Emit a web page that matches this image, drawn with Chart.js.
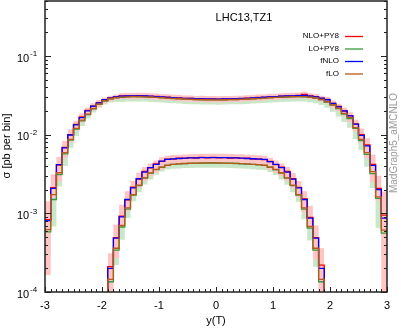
<!DOCTYPE html>
<html lang="en">
<head>
  <meta charset="UTF-8" />
  <title>LHC13,TZ1 - y(T)</title>
  <script src="https://cdn.jsdelivr.net/npm/chart.js@4.4.1/dist/chart.umd.min.js"></script>
  <style>
    html, body { margin: 0; padding: 0; background: #fff; }
    #wrap { width: 399px; height: 329px; }
  </style>
</head>
<body>
  <div id="wrap"><canvas id="xsec" width="399" height="329"></canvas></div>

  <script>
    // bin edges in y(T), bins are 0.1 wide
    const edges = [
      -3.0, -2.9, -2.8, -2.7, -2.6, -2.5, -2.4, -2.3, -2.2, -2.1,
      -2.0, -1.9, -1.8, -1.7, -1.6, -1.5, -1.4, -1.3, -1.2, -1.1,
      -1.0, -0.9, -0.8, -0.7, -0.6, -0.5, -0.4, -0.3, -0.2, -0.1,
       0.0,  0.1,  0.2,  0.3,  0.4,  0.5,  0.6,  0.7,  0.8,  0.9,
       1.0,  1.1,  1.2,  1.3,  1.4,  1.5,  1.6,  1.7,  1.8,  1.9,
       2.0,  2.1,  2.2,  2.3,  2.4,  2.5,  2.6,  2.7,  2.8,  2.9,
       3.0
    ];
    // the lower distribution only fills -1.9 .. 1.9
    const lowEdges = edges.slice(11, 50);

    const xTicks = [-3, -2, -1, 0, 1, 2, 3];
    const yTickExp = [-4, -3, -2, -1];

    // ---- upper distribution (60 bins) ----
    const upNLO = [
      8.3e-4, 2.12e-3, 4.1e-3, 6.9e-3, 1.0e-2, 1.35e-2, 1.68e-2, 2.04e-2, 2.30e-2, 2.56e-2,
      2.76e-2, 2.94e-2, 3.02e-2, 3.10e-2, 3.12e-2, 3.10e-2, 3.13e-2, 3.11e-2, 3.07e-2, 3.06e-2,
      3.00e-2, 2.99e-2, 2.94e-2, 2.93e-2, 2.89e-2, 2.89e-2, 2.85e-2, 2.86e-2, 2.83e-2, 2.84e-2,
      2.82e-2, 2.85e-2, 2.84e-2, 2.87e-2, 2.87e-2, 2.91e-2, 2.92e-2, 2.97e-2, 2.98e-2, 3.03e-2,
      3.04e-2, 3.09e-2, 3.11e-2, 3.12e-2, 3.15e-2, 3.25e-2, 3.10e-2, 3.04e-2, 2.90e-2, 2.80e-2,
      2.50e-2, 2.28e-2, 2.00e-2, 1.75e-2, 1.37e-2, 1.00e-2, 7.4e-3, 4.2e-3, 2.08e-3, 9.5e-4
    ];
    const upLO = [
      5.8e-4, 1.50e-3, 3.10e-3, 5.7e-3, 8.5e-3, 1.18e-2, 1.50e-2, 1.80e-2, 2.13e-2, 2.43e-2,
      2.68e-2, 2.85e-2, 2.94e-2, 2.99e-2, 3.02e-2, 3.04e-2, 3.03e-2, 3.02e-2, 3.00e-2, 2.97e-2,
      2.94e-2, 2.91e-2, 2.88e-2, 2.86e-2, 2.83e-2, 2.81e-2, 2.80e-2, 2.78e-2, 2.77e-2, 2.77e-2,
      2.76e-2, 2.77e-2, 2.79e-2, 2.80e-2, 2.81e-2, 2.83e-2, 2.86e-2, 2.88e-2, 2.91e-2, 2.94e-2,
      2.97e-2, 2.99e-2, 3.01e-2, 3.03e-2, 3.04e-2, 3.03e-2, 2.99e-2, 2.91e-2, 2.79e-2, 2.60e-2,
      2.37e-2, 2.14e-2, 1.83e-2, 1.60e-2, 1.20e-2, 8.4e-3, 5.6e-3, 3.20e-3, 1.55e-3, 5.6e-4
    ];
    const upFNLO = [
      8.1e-4, 2.07e-3, 4.15e-3, 6.8e-3, 9.9e-3, 1.33e-2, 1.65e-2, 2.01e-2, 2.31e-2, 2.54e-2,
      2.78e-2, 2.92e-2, 3.03e-2, 3.08e-2, 3.10e-2, 3.12e-2, 3.12e-2, 3.10e-2, 3.08e-2, 3.05e-2,
      3.02e-2, 2.98e-2, 2.95e-2, 2.92e-2, 2.90e-2, 2.88e-2, 2.86e-2, 2.85e-2, 2.84e-2, 2.83e-2,
      2.83e-2, 2.84e-2, 2.85e-2, 2.86e-2, 2.88e-2, 2.90e-2, 2.93e-2, 2.96e-2, 2.99e-2, 3.02e-2,
      3.05e-2, 3.08e-2, 3.10e-2, 3.12e-2, 3.14e-2, 3.16e-2, 3.09e-2, 3.03e-2, 2.92e-2, 2.78e-2,
      2.49e-2, 2.26e-2, 2.01e-2, 1.73e-2, 1.36e-2, 9.8e-3, 7.2e-3, 4.07e-3, 2.01e-3, 8.7e-4
    ];
    const upFLO = [
      6.2e-4, 1.73e-3, 3.28e-3, 5.9e-3, 8.7e-3, 1.20e-2, 1.53e-2, 1.82e-2, 2.15e-2, 2.45e-2,
      2.70e-2, 2.86e-2, 2.95e-2, 3.00e-2, 3.03e-2, 3.04e-2, 3.04e-2, 3.03e-2, 3.01e-2, 2.98e-2,
      2.95e-2, 2.92e-2, 2.89e-2, 2.86e-2, 2.84e-2, 2.82e-2, 2.80e-2, 2.79e-2, 2.78e-2, 2.77e-2,
      2.77e-2, 2.78e-2, 2.79e-2, 2.80e-2, 2.82e-2, 2.84e-2, 2.86e-2, 2.89e-2, 2.92e-2, 2.95e-2,
      2.98e-2, 3.00e-2, 3.02e-2, 3.04e-2, 3.05e-2, 3.04e-2, 3.00e-2, 2.93e-2, 2.80e-2, 2.62e-2,
      2.40e-2, 2.17e-2, 1.86e-2, 1.65e-2, 1.23e-2, 8.7e-3, 5.9e-3, 3.38e-3, 1.62e-3, 6.1e-4
    ];
    // uncertainty bands (NLO+PY8 pink, LO+PY8 green)
    const upNLOHi = [
      1.42e-3, 3.12e-3, 5.2e-3, 8.3e-3, 1.17e-2, 1.50e-2, 1.86e-2, 2.22e-2, 2.50e-2, 2.75e-2,
      2.97e-2, 3.12e-2, 3.24e-2, 3.36e-2, 3.38e-2, 3.38e-2, 3.40e-2, 3.38e-2, 3.35e-2, 3.33e-2,
      3.28e-2, 3.26e-2, 3.21e-2, 3.19e-2, 3.15e-2, 3.15e-2, 3.11e-2, 3.12e-2, 3.09e-2, 3.10e-2,
      3.08e-2, 3.11e-2, 3.10e-2, 3.13e-2, 3.13e-2, 3.17e-2, 3.19e-2, 3.24e-2, 3.25e-2, 3.30e-2,
      3.32e-2, 3.37e-2, 3.39e-2, 3.40e-2, 3.43e-2, 3.50e-2, 3.36e-2, 3.28e-2, 3.12e-2, 3.00e-2,
      2.72e-2, 2.48e-2, 2.22e-2, 1.93e-2, 1.55e-2, 1.20e-2, 9.0e-3, 5.6e-3, 3.0e-3, 1.9e-3
    ];
    const upNLOLo = [
      1.65e-4, 1.57e-3, 2.57e-3, 5.1e-3, 7.9e-3, 1.12e-2, 1.43e-2, 1.75e-2, 2.05e-2, 2.26e-2,
      2.49e-2, 2.64e-2, 2.75e-2, 2.82e-2, 2.84e-2, 2.82e-2, 2.85e-2, 2.83e-2, 2.79e-2, 2.78e-2,
      2.73e-2, 2.72e-2, 2.67e-2, 2.66e-2, 2.63e-2, 2.63e-2, 2.59e-2, 2.60e-2, 2.57e-2, 2.58e-2,
      2.56e-2, 2.59e-2, 2.58e-2, 2.61e-2, 2.61e-2, 2.65e-2, 2.65e-2, 2.70e-2, 2.71e-2, 2.75e-2,
      2.76e-2, 2.81e-2, 2.83e-2, 2.84e-2, 2.86e-2, 2.95e-2, 2.82e-2, 2.76e-2, 2.64e-2, 2.50e-2,
      2.22e-2, 2.00e-2, 1.73e-2, 1.45e-2, 1.10e-2, 7.8e-3, 5.0e-3, 2.5e-3, 1.45e-3, 1.0e-4
    ];
    const upLOHi = [
      7.0e-4, 1.75e-3, 3.4e-3, 6.2e-3, 9.2e-3, 1.27e-2, 1.61e-2, 1.93e-2, 2.28e-2, 2.59e-2,
      2.85e-2, 3.03e-2, 3.12e-2, 3.17e-2, 3.20e-2, 3.22e-2, 3.21e-2, 3.20e-2, 3.18e-2, 3.15e-2,
      3.12e-2, 3.09e-2, 3.06e-2, 3.04e-2, 3.01e-2, 2.99e-2, 2.98e-2, 2.96e-2, 2.95e-2, 2.95e-2,
      2.94e-2, 2.95e-2, 2.97e-2, 2.98e-2, 2.99e-2, 3.01e-2, 3.04e-2, 3.06e-2, 3.09e-2, 3.12e-2,
      3.15e-2, 3.17e-2, 3.19e-2, 3.21e-2, 3.22e-2, 3.21e-2, 3.17e-2, 3.09e-2, 2.97e-2, 2.78e-2,
      2.54e-2, 2.29e-2, 1.96e-2, 1.72e-2, 1.30e-2, 9.1e-3, 6.1e-3, 3.5e-3, 1.80e-3, 6.8e-4
    ];
    const upLOLo = [
      3.0e-4, 6.8e-4, 2.2e-3, 4.0e-3, 6.8e-3, 9.6e-3, 1.29e-2, 1.60e-2, 1.91e-2, 2.20e-2,
      2.42e-2, 2.56e-2, 2.60e-2, 2.60e-2, 2.63e-2, 2.64e-2, 2.64e-2, 2.63e-2, 2.61e-2, 2.58e-2,
      2.56e-2, 2.53e-2, 2.51e-2, 2.49e-2, 2.46e-2, 2.44e-2, 2.44e-2, 2.42e-2, 2.41e-2, 2.41e-2,
      2.40e-2, 2.41e-2, 2.43e-2, 2.44e-2, 2.44e-2, 2.46e-2, 2.49e-2, 2.51e-2, 2.53e-2, 2.56e-2,
      2.58e-2, 2.60e-2, 2.62e-2, 2.64e-2, 2.64e-2, 2.63e-2, 2.58e-2, 2.50e-2, 2.38e-2, 2.20e-2,
      1.95e-2, 1.70e-2, 1.45e-2, 1.22e-2, 8.8e-3, 6.4e-3, 3.9e-3, 2.1e-3, 6.5e-4, 2.8e-4
    ];

    // ---- lower distribution (38 bins, -1.9 .. 1.9) ----
    const loNLO = [
      2.1e-4, 4.9e-4, 9.2e-4, 1.48e-3, 2.15e-3, 2.72e-3, 3.42e-3, 3.78e-3, 4.25e-3, 4.58e-3,
      4.88e-3, 4.90e-3, 5.02e-3, 5.00e-3, 5.10e-3, 5.05e-3, 5.13e-3, 5.08e-3, 5.14e-3, 5.07e-3,
      5.12e-3, 5.05e-3, 5.09e-3, 5.00e-3, 5.01e-3, 4.90e-3, 4.92e-3, 4.82e-3, 4.56e-3, 4.15e-3,
      3.86e-3, 3.40e-3, 2.75e-3, 2.14e-3, 1.52e-3, 8.9e-4, 4.9e-4, 2.2e-4
    ];
    const loLO = [
      1.35e-4, 3.4e-4, 6.7e-4, 1.13e-3, 1.70e-3, 2.25e-3, 2.80e-3, 3.25e-3, 3.60e-3, 3.85e-3,
      4.08e-3, 4.18e-3, 4.25e-3, 4.29e-3, 4.32e-3, 4.34e-3, 4.35e-3, 4.36e-3, 4.36e-3, 4.35e-3,
      4.34e-3, 4.32e-3, 4.30e-3, 4.27e-3, 4.23e-3, 4.19e-3, 4.14e-3, 4.08e-3, 3.85e-3, 3.58e-3,
      3.25e-3, 2.80e-3, 2.25e-3, 1.70e-3, 1.13e-3, 6.5e-4, 3.4e-4, 1.35e-4
    ];
    const loFNLO = [
      2.0e-4, 4.85e-4, 9.0e-4, 1.50e-3, 2.11e-3, 2.75e-3, 3.34e-3, 3.80e-3, 4.19e-3, 4.62e-3,
      4.85e-3, 4.92e-3, 4.98e-3, 5.02e-3, 5.06e-3, 5.08e-3, 5.10e-3, 5.10e-3, 5.11e-3, 5.10e-3,
      5.10e-3, 5.08e-3, 5.06e-3, 5.03e-3, 4.98e-3, 4.94e-3, 4.88e-3, 4.85e-3, 4.53e-3, 4.19e-3,
      3.80e-3, 3.34e-3, 2.72e-3, 2.11e-3, 1.50e-3, 8.7e-4, 4.85e-4, 2.0e-4
    ];
    const loFLO = [
      1.45e-4, 3.6e-4, 7.0e-4, 1.17e-3, 1.73e-3, 2.28e-3, 2.83e-3, 3.27e-3, 3.62e-3, 3.87e-3,
      4.10e-3, 4.20e-3, 4.26e-3, 4.30e-3, 4.33e-3, 4.35e-3, 4.36e-3, 4.37e-3, 4.37e-3, 4.36e-3,
      4.35e-3, 4.33e-3, 4.31e-3, 4.28e-3, 4.24e-3, 4.20e-3, 4.15e-3, 4.10e-3, 3.87e-3, 3.61e-3,
      3.28e-3, 2.83e-3, 2.28e-3, 1.73e-3, 1.17e-3, 6.8e-4, 3.6e-4, 1.45e-4
    ];
    const loNLOHi = [
      3.1e-4, 7.2e-4, 1.29e-3, 1.91e-3, 2.57e-3, 3.28e-3, 3.87e-3, 4.30e-3, 4.70e-3, 5.15e-3,
      5.40e-3, 5.50e-3, 5.56e-3, 5.60e-3, 5.65e-3, 5.67e-3, 5.70e-3, 5.70e-3, 5.71e-3, 5.70e-3,
      5.70e-3, 5.68e-3, 5.65e-3, 5.62e-3, 5.57e-3, 5.52e-3, 5.46e-3, 5.40e-3, 5.10e-3, 4.70e-3,
      4.30e-3, 3.87e-3, 3.25e-3, 2.57e-3, 1.91e-3, 1.25e-3, 7.0e-4, 3.6e-4
    ];
    const loNLOLo = [
      8.0e-5, 2.7e-4, 6.8e-4, 1.06e-3, 1.65e-3, 2.11e-3, 2.57e-3, 2.97e-3, 3.28e-3, 3.60e-3,
      3.90e-3, 4.15e-3, 4.30e-3, 4.40e-3, 4.48e-3, 4.50e-3, 4.53e-3, 4.53e-3, 4.54e-3, 4.53e-3,
      4.53e-3, 4.50e-3, 4.47e-3, 4.42e-3, 4.35e-3, 4.25e-3, 4.12e-3, 3.90e-3, 3.58e-3, 3.25e-3,
      2.97e-3, 2.57e-3, 2.11e-3, 1.62e-3, 1.04e-3, 6.5e-4, 2.6e-4, 8.0e-5
    ];
    const loLOHi = [
      1.7e-4, 4.0e-4, 7.6e-4, 1.26e-3, 1.86e-3, 2.44e-3, 3.02e-3, 3.49e-3, 3.86e-3, 4.12e-3,
      4.36e-3, 4.46e-3, 4.52e-3, 4.56e-3, 4.59e-3, 4.61e-3, 4.62e-3, 4.63e-3, 4.63e-3, 4.62e-3,
      4.61e-3, 4.59e-3, 4.57e-3, 4.54e-3, 4.50e-3, 4.46e-3, 4.41e-3, 4.35e-3, 4.12e-3, 3.84e-3,
      3.49e-3, 3.02e-3, 2.44e-3, 1.86e-3, 1.26e-3, 7.4e-4, 4.0e-4, 1.7e-4
    ];
    const loLOLo = [
      1.0e-4, 2.2e-4, 4.6e-4, 8.7e-4, 1.42e-3, 1.85e-3, 2.33e-3, 2.70e-3, 3.10e-3, 3.40e-3,
      3.60e-3, 3.68e-3, 3.72e-3, 3.76e-3, 3.78e-3, 3.80e-3, 3.80e-3, 3.81e-3, 3.81e-3, 3.80e-3,
      3.79e-3, 3.77e-3, 3.75e-3, 3.72e-3, 3.68e-3, 3.64e-3, 3.58e-3, 3.55e-3, 3.35e-3, 3.08e-3,
      2.70e-3, 2.30e-3, 1.85e-3, 1.40e-3, 8.5e-4, 4.5e-4, 2.1e-4, 1.0e-4
    ];

    const legendNames = ['NLO+PY8', 'LO+PY8', 'fNLO', 'fLO'];
    const lineColors = ['#ff0000', '#3a9a3a', '#0000ff', '#b8581c'];
    const PINK = '#ffc4c4';
    const LIGHTGREEN = '#c9e7c9';
    const EMPTY = 1e-5;   // empty bin, below the axis
    const FONT = '"Liberation Sans", Arial, sans-serif';

    // histogram outline: value held from left edge to right edge
    function histo(xs, vals, drop) {
      const pts = vals.map((v, i) => ({ x: xs[i], y: v }));
      pts.push({ x: xs[vals.length], y: vals[vals.length - 1] });
      if (drop) {
        pts.unshift({ x: xs[0], y: EMPTY });
        pts.push({ x: xs[vals.length], y: EMPTY });
      }
      return pts;
    }

    function band(xs, lo, hi, color, order) {
      const base = { stepped: true, borderWidth: 0, borderColor: 'transparent', pointRadius: 0, order };
      return [
        Object.assign({ data: histo(xs, lo), fill: false }, base),
        Object.assign({ data: histo(xs, hi), fill: '-1', backgroundColor: color }, base)
      ];
    }

    function curve(xs, vals, k, drop) {
      return {
        data: histo(xs, vals, drop),
        stepped: true,
        borderColor: lineColors[k],
        borderWidth: 1.3,
        pointRadius: 0,
        fill: false,
        order: 4 - k
      };
    }

    function hline(ctx, x1, y1, x2, y2) {
      ctx.beginPath();
      ctx.moveTo(x1, y1);
      ctx.lineTo(x2, y2);
      ctx.stroke();
    }

    // frame, inward ticks, gnuplot-like labels, key and side text
    const decor = {
      id: 'decor',
      afterDatasetsDraw(chart) {
        const { ctx, chartArea: a, scales: { x, y } } = chart;
        ctx.save();
        ctx.strokeStyle = '#222';
        ctx.lineWidth = 1;

        // y ticks on both sides
        yTickExp.forEach(e => {
          for (let m = 1; m <= 9; m++) {
            const v = m * Math.pow(10, e);
            if (v > y.max) break;
            const py = Math.round(y.getPixelForValue(v)) + 0.5;
            const len = m === 1 ? 6 : 3;
            hline(ctx, a.left, py, a.left + len, py);
            hline(ctx, a.right, py, a.right - len, py);
          }
        });
        // x ticks on the bottom only
        edges.forEach(v => {
          const px = Math.round(x.getPixelForValue(v)) + 0.5;
          const major = Math.abs(v - Math.round(v)) < 1e-6;
          hline(ctx, px, a.bottom, px, a.bottom - (major ? 5 : 3));
        });

        ctx.lineWidth = 1.5;
        ctx.strokeRect(a.left, a.top, a.right - a.left, a.bottom - a.top);

        ctx.fillStyle = '#000';
        ctx.textBaseline = 'middle';

        // y labels 10^n
        yTickExp.forEach(e => {
          const py = y.getPixelForValue(Math.pow(10, e));
          ctx.textAlign = 'left';
          ctx.font = '11px ' + FONT;
          ctx.fillText('10', 17, py + 2.5);
          ctx.font = '8px ' + FONT;
          ctx.fillText(String(e), 30, py - 2);
        });

        // x labels
        ctx.font = '11px ' + FONT;
        ctx.textAlign = 'center';
        xTicks.forEach(v => ctx.fillText(String(v), x.getPixelForValue(v), 306));
        ctx.fillText('y(T)', (a.left + a.right) / 2, 321);

        // title
        ctx.fillText('LHC13,TZ1', 244, 18);

        // y title
        ctx.save();
        ctx.translate(7, 146);
        ctx.rotate(-Math.PI / 2);
        ctx.fillText('\u03c3 [pb per bin]', 0, 0);
        ctx.restore();

        // side label
        ctx.save();
        ctx.translate(394, 143);
        ctx.rotate(-Math.PI / 2);
        ctx.fillStyle = '#9a9a9a';
        ctx.font = '10px ' + FONT;
        ctx.fillText('MadGraph5_aMCNLO', 0, 0);
        ctx.restore();

        // key
        ctx.font = '8px ' + FONT;
        ctx.textAlign = 'right';
        legendNames.forEach((name, k) => {
          const ky = 36 + k * 12.5;
          ctx.fillStyle = '#000';
          ctx.fillText(name, 339, ky);
          ctx.strokeStyle = lineColors[k];
          ctx.lineWidth = 1.3;
          hline(ctx, 345, ky + 0.5, 363, ky + 0.5);
        });

        ctx.restore();
      }
    };

    const datasets = [
      ...band(edges, upLOLo, upLOHi, LIGHTGREEN, 10),
      ...band(lowEdges, loLOLo, loLOHi, LIGHTGREEN, 10),
      ...band(edges, upNLOLo, upNLOHi, PINK, 9),
      ...band(lowEdges, loNLOLo, loNLOHi, PINK, 9),
      curve(edges, upNLO, 0, false),
      curve(lowEdges, loNLO, 0, true),
      curve(edges, upLO, 1, false),
      curve(lowEdges, loLO, 1, true),
      curve(edges, upFNLO, 2, false),
      curve(lowEdges, loFNLO, 2, true),
      curve(edges, upFLO, 3, false),
      curve(lowEdges, loFLO, 3, true)
    ];

    new Chart(document.getElementById('xsec'), {
      type: 'line',
      data: { datasets },
      options: {
        responsive: false,
        animation: false,
        devicePixelRatio: 1,
        layout: { padding: { left: 0, right: 12, top: 1, bottom: 0 } },
        plugins: { legend: { display: false }, tooltip: { enabled: false } },
        scales: {
          x: {
            type: 'linear', min: -3, max: 3,
            ticks: { display: false },
            grid: { display: false },
            border: { display: false },
            afterFit: s => { s.height = 37; }
          },
          y: {
            type: 'logarithmic', min: 1e-4, max: 0.5,
            ticks: { display: false },
            grid: { display: false },
            border: { display: false },
            afterFit: s => { s.width = 45; }
          }
        }
      },
      plugins: [decor]
    });
  </script>
</body>
</html>
